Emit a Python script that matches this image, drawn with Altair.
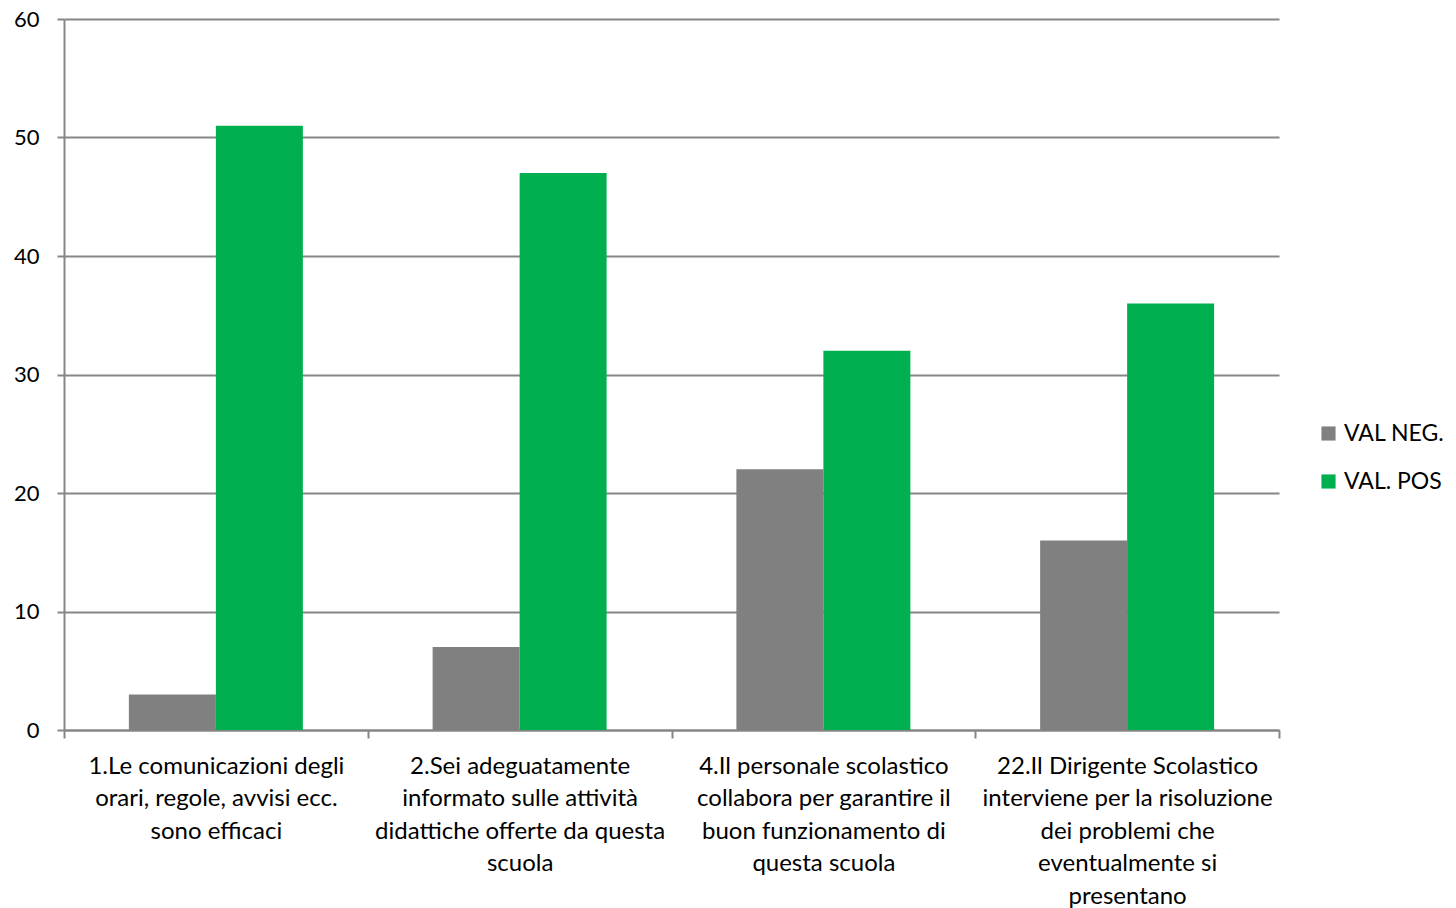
import altair as alt
import pandas as pd

categories = [
    "1.Le comunicazioni degli|orari, regole,  avvisi ecc.|sono efficaci",
    "2.Sei adeguatamente|informato sulle attività|didattiche offerte  da questa|scuola",
    "4.Il personale scolastico|collabora per garantire  il|buon funzionamento di|questa scuola",
    "22.Il Dirigente Scolastico|interviene per la risoluzione|dei problemi che|eventualmente si|presentano",
]
series = ["VAL  NEG.", "VAL. POS"]
val_neg = [3, 7, 22, 16]
val_pos = [51, 47, 32, 36]
colors = ["#808080", "#00B050"]
y_ticks = [0, 10, 20, 30, 40, 50, 60]

rows = []
for c, n, p in zip(categories, val_neg, val_pos):
    rows.append({"cat": c, "serie": series[0], "val": n})
    rows.append({"cat": c, "serie": series[1], "val": p})
df = pd.DataFrame(rows)

FONT = "Lato"
GRID = "#868686"

chart = alt.Chart(df).mark_bar().encode(
    x=alt.X(
        "cat:N",
        sort=categories,
        title=None,
        scale=alt.Scale(paddingInner=0, paddingOuter=0),
        axis=alt.Axis(
            labelExpr="split(datum.label, '|')",
            labelAngle=0,
            labelFont=FONT,
            labelFontSize=24,
            labelColor="#000000",
            labelLineHeight=32.5,
            labelPadding=16,
            labelLimit=400,
            tickBand="extent",
            tickSize=8,
            tickColor=GRID,
            tickWidth=2,
            domainColor=GRID,
            domainWidth=2,
            grid=False,
        ),
    ),
    xOffset=alt.XOffset(
        "serie:N",
        sort=series,
        scale=alt.Scale(paddingInner=0, paddingOuter=0.7457),
    ),
    y=alt.Y(
        "val:Q",
        title=None,
        scale=alt.Scale(domain=[0, 60], nice=False),
        axis=alt.Axis(
            values=y_ticks,
            labelFont=FONT,
            labelFontSize=22,
            labelColor="#000000",
            labelPadding=18,
            tickSize=7,
            tickColor=GRID,
            tickWidth=2,
            domainColor=GRID,
            domainWidth=2,
            gridColor=GRID,
            gridWidth=2,
        ),
    ),
    color=alt.Color(
        "serie:N",
        sort=series,
        scale=alt.Scale(domain=series, range=colors),
        legend=alt.Legend(
            title=None,
            orient="none",
            legendX=1253,
            legendY=403,
            symbolType="square",
            symbolSize=200,
            symbolStrokeWidth=0,
            labelFont=FONT,
            labelFontSize=23,
            labelColor="#000000",
            rowPadding=24,
            symbolOffset=0,
            labelOffset=4,
            labelLimit=200,
        ),
    ),
).properties(
    width=1215,
    height=711,
    padding={"left": 56, "top": 11, "right": 169, "bottom": 180},
    autosize=alt.AutoSizeParams(type="none"),
).configure(background="white").configure_view(stroke="transparent", strokeWidth=0)

chart.save("out.html", embed_options={"renderer": "svg", "actions": False})
